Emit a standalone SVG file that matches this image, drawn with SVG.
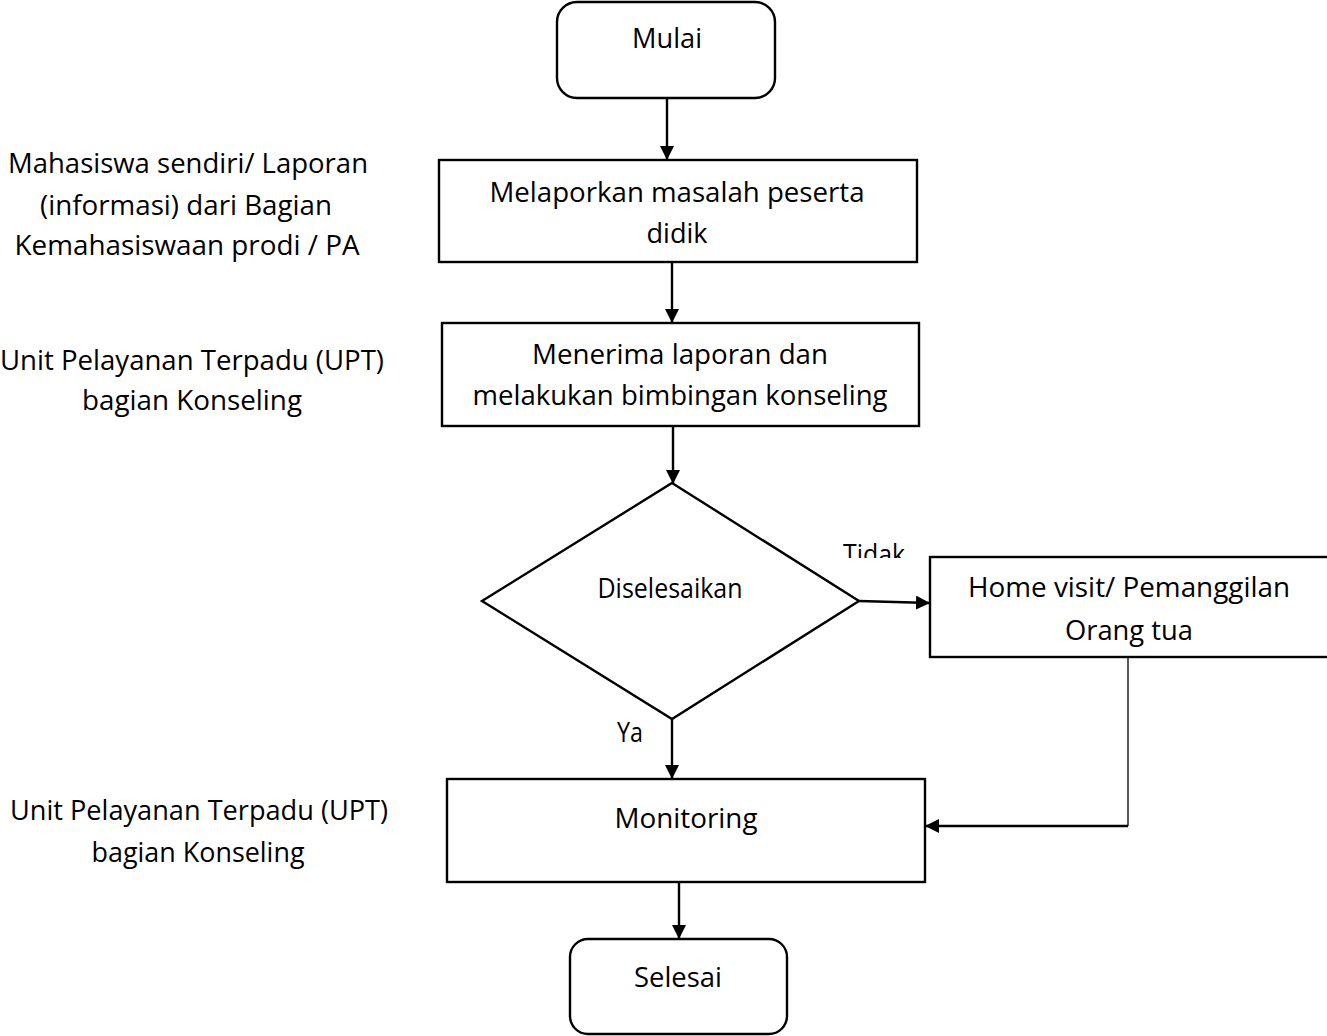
<svg xmlns="http://www.w3.org/2000/svg" width="1327" height="1036" viewBox="0 0 1327 1036">
  <style>
    .box { fill: #ffffff; stroke: #000000; stroke-width: 2.4; }
    .line { fill: none; stroke: #000000; stroke-width: 2.4; }
    .thin { fill: none; stroke: #000000; stroke-width: 1.3; }
    text { font-family: "Open Sans", "Noto Sans", "Liberation Sans", sans-serif; font-size: 27.5px; fill: #000000; text-anchor: middle; }
  </style>
  <defs>
    <marker id="arrow" markerWidth="14" markerHeight="14" refX="14" refY="7" orient="auto" markerUnits="userSpaceOnUse">
      <path d="M0,0 L14,7 L0,14 Z" fill="#000000"/>
    </marker>
    <clipPath id="tidakClip">
      <rect x="830" y="530" width="90" height="28"/>
    </clipPath>
  </defs>

  <!-- side notes -->
  <g id="note-pelapor">
    <text x="188" y="173" textLength="360" lengthAdjust="spacingAndGlyphs">Mahasiswa sendiri/ Laporan</text>
    <text x="186" y="215" textLength="292" lengthAdjust="spacingAndGlyphs">(informasi) dari Bagian</text>
    <text x="187" y="255" textLength="345" lengthAdjust="spacingAndGlyphs">Kemahasiswaan prodi / PA</text>
  </g>
  <g id="note-upt-1">
    <text x="192" y="370" textLength="384" lengthAdjust="spacingAndGlyphs">Unit Pelayanan Terpadu (UPT)</text>
    <text x="192" y="410" textLength="220" lengthAdjust="spacingAndGlyphs">bagian Konseling</text>
  </g>
  <g id="note-upt-2">
    <text x="199" y="820" textLength="378" lengthAdjust="spacingAndGlyphs">Unit Pelayanan Terpadu (UPT)</text>
    <text x="198" y="862" textLength="213" lengthAdjust="spacingAndGlyphs">bagian Konseling</text>
  </g>

  <!-- connectors -->
  <g id="connectors">
    <line class="line" x1="667" y1="98" x2="667" y2="160" marker-end="url(#arrow)"/>
    <line class="line" x1="672" y1="262" x2="672" y2="323" marker-end="url(#arrow)"/>
    <line class="line" x1="673" y1="426" x2="673" y2="484" marker-end="url(#arrow)"/>
    <line class="line" x1="859" y1="601" x2="930" y2="603" marker-end="url(#arrow)"/>
    <line class="line" x1="672" y1="719" x2="672" y2="779" marker-end="url(#arrow)"/>
    <polyline class="thin" points="1128,657 1128,826"/>
    <line class="line" x1="1128" y1="826" x2="925" y2="826" marker-end="url(#arrow)"/>
    <line class="line" x1="679" y1="882" x2="679" y2="939" marker-end="url(#arrow)"/>
    <text x="874" y="564" textLength="62" lengthAdjust="spacingAndGlyphs" clip-path="url(#tidakClip)">Tidak</text>
    <text x="630" y="742" textLength="26" lengthAdjust="spacingAndGlyphs">Ya</text>
  </g>

  <!-- nodes -->
  <g id="mulai">
    <rect class="box" x="557" y="2" width="218" height="96" rx="20" ry="20"/>
    <text x="667" y="48" textLength="70" lengthAdjust="spacingAndGlyphs">Mulai</text>
  </g>
  <g id="melaporkan">
    <rect class="box" x="439" y="160" width="478" height="102"/>
    <text x="677" y="202" textLength="375" lengthAdjust="spacingAndGlyphs">Melaporkan masalah peserta</text>
    <text x="677" y="243" textLength="61" lengthAdjust="spacingAndGlyphs">didik</text>
  </g>
  <g id="menerima">
    <rect class="box" x="442" y="323" width="477" height="103"/>
    <text x="680" y="364" textLength="296" lengthAdjust="spacingAndGlyphs">Menerima laporan dan</text>
    <text x="680" y="405" textLength="415" lengthAdjust="spacingAndGlyphs">melakukan bimbingan konseling</text>
  </g>
  <g id="diselesaikan">
    <polygon class="box" points="672,483 859,601 672,719 482,601"/>
    <text x="670" y="598" textLength="145" lengthAdjust="spacingAndGlyphs">Diselesaikan</text>
  </g>
  <g id="home-visit">
    <rect class="box" x="930" y="557" width="410" height="100"/>
    <text x="1129" y="597" textLength="322" lengthAdjust="spacingAndGlyphs">Home visit/ Pemanggilan</text>
    <text x="1129" y="640" textLength="128" lengthAdjust="spacingAndGlyphs">Orang tua</text>
  </g>
  <g id="monitoring">
    <rect class="box" x="447" y="779" width="478" height="103"/>
    <text x="686" y="828" textLength="143" lengthAdjust="spacingAndGlyphs">Monitoring</text>
  </g>
  <g id="selesai">
    <rect class="box" x="570" y="939" width="217" height="95" rx="18" ry="18"/>
    <text x="678" y="987" textLength="88" lengthAdjust="spacingAndGlyphs">Selesai</text>
  </g>
</svg>
